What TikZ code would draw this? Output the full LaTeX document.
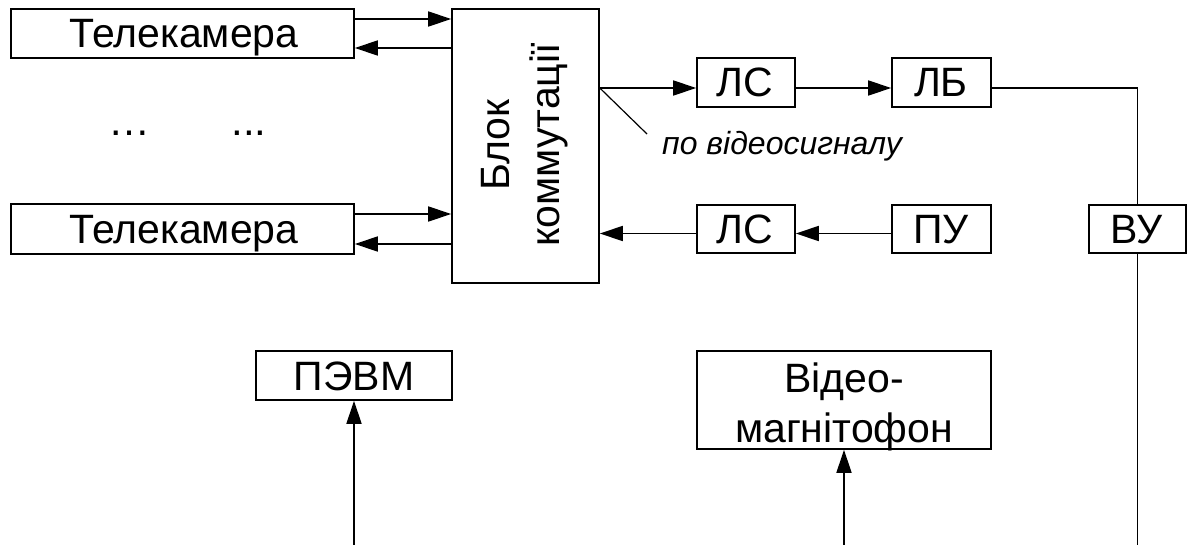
\documentclass[tikz,border=0pt]{standalone}
\usepackage{fontspec}
\setmainfont{Liberation Sans}
\usetikzlibrary{arrows.meta}
\begin{document}
\begin{tikzpicture}[x=1pt,y=-1pt,
  box/.style={draw, line width=1.6pt, inner sep=0pt, rectangle},
  lbl/.style={inner sep=0pt, anchor=base, font=\fontsize{41}{50}\selectfont},
  ln/.style={line width=1.6pt},
  arr/.style={line width=1.6pt, -{Triangle[length=23pt,width=15pt]}},
  dots/.style={inner sep=0pt, anchor=base, font=\fontsize{42}{46}\selectfont}]
\useasboundingbox (0,0) rectangle (1187,544);
% boxes
\node[box, minimum width=343pt, minimum height=49pt] (tk1) at (182.5,33.5) {};
\node[box, minimum width=343pt, minimum height=50pt] (tk2) at (182.5,229) {};
\node[box, minimum width=147pt, minimum height=274pt] (blk) at (525.5,146) {};
\node[box, minimum width=98pt, minimum height=49pt] (ls1) at (746,82.5) {};
\node[box, minimum width=99pt, minimum height=49pt] (lb) at (941.5,82.5) {};
\node[box, minimum width=98pt, minimum height=48pt] (ls2) at (746,229) {};
\node[box, minimum width=99pt, minimum height=48pt] (pu) at (941.5,229) {};
\node[box, minimum width=97pt, minimum height=48pt] (vu) at (1137.5,229) {};
\node[box, minimum width=196pt, minimum height=49pt] (pevm) at (354,375.5) {};
\node[box, minimum width=294pt, minimum height=98pt] (vid) at (844,400) {};
% texts
\node[lbl] (tk1t) at (184,47) {Телекамера};
\node[lbl] (tk2t) at (184,243) {Телекамера};
\node[lbl, rotate=90] (blkt1) at (509,145) {Блок};
\node[lbl, rotate=90] (blkt2) at (559,145) {коммутації};
\node[lbl] (ls1t) at (745,96) {ЛС};
\node[lbl] (lbt) at (941,96) {ЛБ};
\node[lbl] (ls2t) at (745,243) {ЛС};
\node[lbl] (put) at (941,243) {ПУ};
\node[lbl] (vut) at (1137,243) {ВУ};
\node[lbl] (pevmt) at (354,390) {ПЭВМ};
\node[lbl] (vidt1) at (844,392) {Відео-};
\node[lbl] (vidt2) at (844,442) {магнітофон};
\node[inner sep=0pt, anchor=base west, font=\fontsize{32}{38}\selectfont\itshape] (sig) at (662,154) {по відеосигналу};
\node[dots] (d1) at (129,135) {…};
\node[dots] (d2) at (249,135) {...};
% connectors
\draw[arr] (tk1.east|-{(0,19)}) -- (blk.west|-{(0,19)});
\draw[arr] (blk.west|-{(0,48)}) -- (tk1.east|-{(0,48)});
\draw[arr] (tk2.east|-{(0,214)}) -- (blk.west|-{(0,214)});
\draw[arr] (blk.west|-{(0,244)}) -- (tk2.east|-{(0,244)});
\draw[arr] (blk.east|-{(0,88)}) -- (ls1.west|-{(0,88)});
\draw[arr] (ls1.east|-{(0,88)}) -- (lb.west|-{(0,88)});
\draw[ln] (lb.east|-{(0,88)}) -| (vu.north);
\coordinate (vubot) at (1137.5,546);
\draw[ln] (vu.south) -- (vubot);
\draw[arr] (pu.west|-{(0,233.5)}) -- (ls2.east|-{(0,233.5)});
\draw[arr] (ls2.west|-{(0,233.5)}) -- (blk.east|-{(0,233.5)});
\coordinate (pevmbot) at (354,546);
\draw[arr] (pevmbot) -- (pevm.south);
\coordinate (vidbot) at (844,546);
\draw[arr] (vidbot) -- (vid.south);
\coordinate (sigend) at (647,134);
\draw[line width=1.2pt] (blk.east|-{(0,88)}) -- (sigend);
\end{tikzpicture}
\end{document}
